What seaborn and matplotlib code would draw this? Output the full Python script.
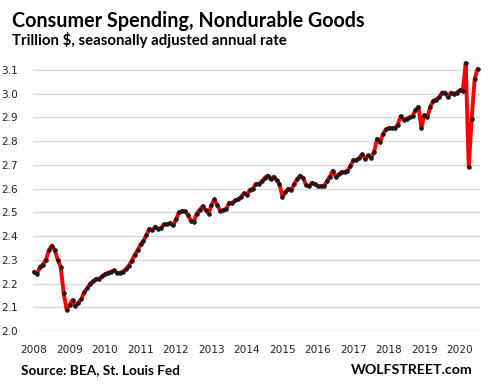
import numpy as np
import pandas as pd
import matplotlib
matplotlib.use("Agg")
import matplotlib.pyplot as plt
import seaborn as sns

# Monthly values, trillion $ (SAAR)
v2008 = [2.25, 2.24, 2.27, 2.28, 2.30, 2.34, 2.36, 2.34, 2.30, 2.27, 2.16, 2.09]
v2009 = [2.11, 2.13, 2.105, 2.12, 2.135, 2.165, 2.18, 2.20, 2.21, 2.22, 2.22, 2.23]
v2010 = [2.24, 2.245, 2.25, 2.255, 2.245, 2.245, 2.25, 2.26, 2.275, 2.295, 2.32, 2.34]
v2011 = [2.365, 2.38, 2.405, 2.43, 2.425, 2.44, 2.43, 2.435, 2.45, 2.45, 2.455, 2.445]
v2012 = [2.47, 2.50, 2.505, 2.505, 2.49, 2.465, 2.46, 2.495, 2.51, 2.525, 2.51, 2.495]
v2013 = [2.53, 2.555, 2.53, 2.505, 2.51, 2.515, 2.54, 2.54, 2.55, 2.555, 2.565, 2.58]
v2014 = [2.575, 2.595, 2.60, 2.62, 2.62, 2.63, 2.645, 2.655, 2.64, 2.65, 2.635, 2.62]
v2015 = [2.565, 2.585, 2.60, 2.595, 2.62, 2.64, 2.655, 2.645, 2.615, 2.61, 2.625, 2.62]
v2016 = [2.61, 2.61, 2.61, 2.63, 2.65, 2.675, 2.65, 2.66, 2.67, 2.67, 2.675, 2.695]
v2017 = [2.72, 2.72, 2.73, 2.745, 2.725, 2.74, 2.73, 2.755, 2.81, 2.795, 2.83, 2.85]
v2018 = [2.855, 2.855, 2.855, 2.87, 2.905, 2.89, 2.895, 2.90, 2.905, 2.93, 2.945, 2.855]
v2019 = [2.91, 2.90, 2.945, 2.97, 2.975, 2.985, 3.005, 3.005, 2.985, 3.005, 3.0, 3.005]
v2020 = [3.015, 3.01, 3.13, 2.69, 2.895, 3.06, 3.105]

years = list(range(2008, 2021))
year_ticks = [str(y) for y in years]
y_ticks = [2.0, 2.1, 2.2, 2.3, 2.4, 2.5, 2.6, 2.7, 2.8, 2.9, 3.0, 3.1]

values = (v2008 + v2009 + v2010 + v2011 + v2012 + v2013 + v2014 + v2015
          + v2016 + v2017 + v2018 + v2019 + v2020)
dates = pd.date_range("2008-01-01", periods=len(values), freq="MS")
df = pd.DataFrame({"date": dates, "value": values})
df["t"] = df["date"].dt.year + (df["date"].dt.month - 1) / 12.0

sns.set_style("white")
plt.rcParams["font.family"] = ["DejaVu Sans"]

fig = plt.figure(figsize=(4.89, 3.85), dpi=100)
ax = fig.add_axes([0.0675, 0.1403, 0.914, 0.7026])

sns.lineplot(data=df, x="t", y="value", ax=ax, color="#ff0000", linewidth=2.8,
             marker="o", markersize=2.5, markerfacecolor="#1a1a1a",
             markeredgecolor="#1a1a1a", clip_on=False)

ax.set_xlim(2007.97, 2020.567)
ax.set_ylim(2.0, 3.14)
ax.set_xticks(years)
ax.set_xticklabels(year_ticks)
ax.set_yticks(y_ticks)
ax.set_yticklabels([f"{v:.1f}" for v in y_ticks])
ax.yaxis.grid(True, color="#d9d9d9", linewidth=1.0)
ax.xaxis.grid(False)
ax.set_axisbelow(True)
for s in ax.spines.values():
    s.set_visible(False)
ax.tick_params(axis="both", length=0, labelsize=7.6, colors="#222222")
ax.tick_params(axis="x", pad=10)
ax.tick_params(axis="y", pad=11)
ax.set_xlabel("")
ax.set_ylabel("")

fig.text(0.025, 0.931, "Consumer Spending, Nondurable Goods", fontsize=14.2,
         fontweight="bold", family="Lato", color="black", va="baseline")
fig.text(0.025, 0.882, "Trillion $, seasonally adjusted annual rate", fontsize=10.8,
         fontweight="bold", family="Lato", color="black", va="baseline")
fig.text(0.043, 0.029, "Source: BEA, St. Louis Fed", fontsize=9.8,
         fontweight="bold", family="Lato", color="black", va="baseline")
fig.text(0.967, 0.029, "WOLFSTREET.com", fontsize=10.2, ha="right",
         fontweight="bold", family="Lato", color="black", va="baseline")

fig.savefig("out.png", dpi=100)
